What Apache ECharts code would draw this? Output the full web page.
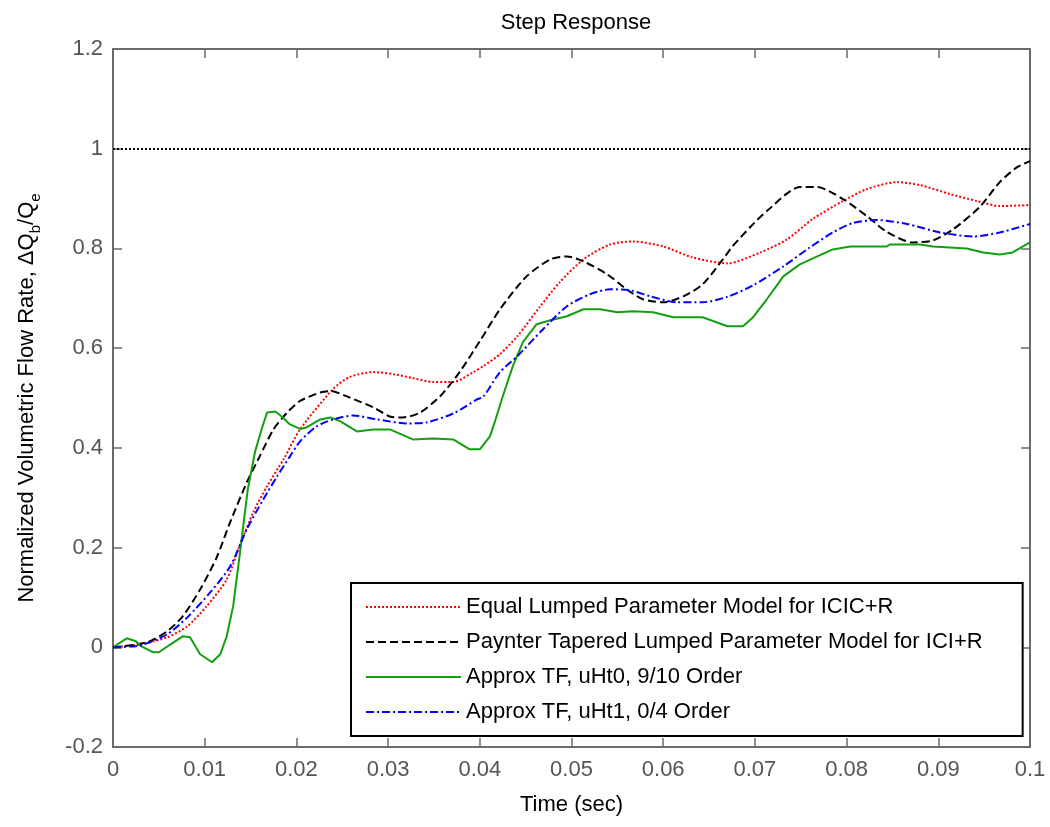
<!DOCTYPE html>
<html>
<head>
<meta charset="utf-8">
<script src="https://cdn.jsdelivr.net/npm/echarts@6/dist/echarts.min.js"></script>
<style>html,body{margin:0;padding:0;background:#fff}#c{width:1050px;height:827px}</style>
</head>
<body>
<div id="c"></div>
<script>
const seriesNames = [
  'Equal Lumped Parameter Model for ICIC+R',
  'Paynter Tapered Lumped Parameter Model for ICI+R',
  'Approx TF, uHt0, 9/10 Order',
  'Approx TF, uHt1, 0/4 Order'
];
const refLevel = 1;
const xTicks = { min: 0, max: 0.1, interval: 0.01 };
const yTicks = { min: -0.2, max: 1.2, interval: 0.2 };

const equalLumped = [
  [0,0],[0.003,0.006],[0.0059,0.02],[0.0081,0.042],[0.0102,0.082],[0.0124,0.136],
  [0.0138,0.203],[0.0153,0.271],[0.0168,0.323],[0.0186,0.377],[0.0204,0.437],
  [0.024,0.518],[0.0258,0.542],[0.0284,0.552],[0.0305,0.548],[0.0327,0.540],
  [0.0349,0.532],[0.0371,0.532],[0.0393,0.552],[0.0404,0.564],[0.0422,0.588],
  [0.0441,0.624],[0.0466,0.684],[0.0487,0.732],[0.0513,0.778],[0.0542,0.808],
  [0.0567,0.814],[0.06,0.804],[0.0632,0.782],[0.067,0.770],[0.0706,0.792],
  [0.0735,0.818],[0.0763,0.859],[0.0796,0.895],[0.0822,0.919],[0.0855,0.933],
  [0.088,0.927],[0.0913,0.909],[0.0942,0.895],[0.0967,0.885],[0.1,0.887]
];
const paynter = [
  [0,0],[0.0037,0.01],[0.0059,0.032],[0.0076,0.062],[0.0095,0.116],[0.0113,0.18],
  [0.0128,0.252],[0.0146,0.331],[0.016,0.383],[0.0175,0.437],[0.019,0.471],
  [0.0204,0.494],[0.0226,0.511],[0.0237,0.514],[0.0258,0.501],[0.0284,0.481],
  [0.0302,0.463],[0.0316,0.461],[0.0335,0.471],[0.0357,0.504],[0.0378,0.552],
  [0.04,0.614],[0.0422,0.678],[0.0451,0.744],[0.0477,0.778],[0.0495,0.784],
  [0.0513,0.774],[0.0539,0.748],[0.056,0.718],[0.0578,0.698],[0.06,0.692],
  [0.0622,0.704],[0.0643,0.728],[0.0665,0.778],[0.0676,0.805],[0.0695,0.843],
  [0.0713,0.875],[0.0749,0.923],[0.0768,0.923],[0.0796,0.899],[0.0822,0.865],
  [0.0844,0.833],[0.0872,0.812],[0.0894,0.816],[0.0916,0.838],[0.0945,0.883],
  [0.0967,0.933],[0.0986,0.963],[0.1,0.975]
];
const approxUHt0 = [
  [0,0],[0.0015,0.018],[0.0025,0.012],[0.003,0.003],[0.0044,-0.01],[0.005,-0.01],
  [0.0062,0.005],[0.0076,0.022],[0.0084,0.02],[0.0095,-0.014],[0.0108,-0.03],
  [0.0117,-0.014],[0.0124,0.022],[0.0131,0.082],[0.0138,0.183],[0.0147,0.317],
  [0.0155,0.393],[0.0162,0.437],[0.0168,0.471],[0.0177,0.473],[0.0184,0.463],
  [0.0193,0.447],[0.0204,0.438],[0.0211,0.441],[0.0226,0.457],[0.0237,0.461],
  [0.0248,0.453],[0.0266,0.433],[0.0284,0.437],[0.0302,0.437],[0.0327,0.417],
  [0.0349,0.419],[0.0371,0.417],[0.0389,0.397],[0.04,0.397],[0.0411,0.423],
  [0.0416,0.45],[0.0425,0.503],[0.0436,0.564],[0.0447,0.612],[0.0462,0.648],
  [0.0477,0.656],[0.0495,0.664],[0.0513,0.678],[0.0531,0.678],[0.055,0.672],
  [0.0567,0.674],[0.0589,0.672],[0.0611,0.662],[0.0643,0.662],[0.067,0.644],
  [0.0687,0.644],[0.0698,0.662],[0.0713,0.698],[0.0731,0.744],[0.0749,0.768],
  [0.0768,0.784],[0.0785,0.798],[0.0804,0.804],[0.0844,0.804],[0.0847,0.808],
  [0.088,0.808],[0.0894,0.804],[0.0931,0.800],[0.0949,0.792],[0.0967,0.788],
  [0.0981,0.792],[0.1,0.812]
];
const approxUHt1 = [
  [0,0],[0.003,0.004],[0.0059,0.026],[0.0081,0.06],[0.0106,0.110],[0.0128,0.163],
  [0.0146,0.237],[0.0164,0.297],[0.0179,0.343],[0.0193,0.383],[0.0204,0.413],
  [0.0222,0.443],[0.024,0.457],[0.0262,0.465],[0.0288,0.457],[0.0321,0.449],
  [0.0342,0.451],[0.0371,0.469],[0.0397,0.497],[0.0404,0.503],[0.0422,0.552],
  [0.0441,0.584],[0.0469,0.638],[0.0495,0.684],[0.052,0.708],[0.0542,0.718],
  [0.0564,0.716],[0.0586,0.704],[0.0615,0.692],[0.0643,0.692],[0.067,0.703],
  [0.0698,0.726],[0.0731,0.764],[0.076,0.802],[0.0785,0.832],[0.0807,0.851],
  [0.0833,0.857],[0.0866,0.849],[0.0902,0.832],[0.0938,0.824],[0.0967,0.832],
  [0.1,0.849]
];

const FONT = "'Liberation Sans', Arial, sans-serif";
const axisGray = '#6b6b6b';
const labelGray = '#555';

const chart = echarts.init(document.getElementById('c'), null, { renderer: 'canvas' });

const baseAxisLine = { show: true, onZero: false, lineStyle: { color: axisGray, width: 2 } };
const tickStyle = { show: true, inside: true, length: 9, lineStyle: { color: axisGray, width: 1.5 } };

chart.setOption({
  backgroundColor: '#fff',
  animation: false,
  title: {
    text: 'Step Response',
    left: 571, top: 7, textAlign: 'center',
    textStyle: { fontFamily: FONT, fontSize: 22, fontWeight: 'normal', color: '#000' }
  },
  grid: { left: 113, right: 20, top: 49, bottom: 80, containLabel: false },
  legend: {
    data: seriesNames,
    orient: 'vertical',
    left: 351, top: 583,
    padding: [13, 40, 13, 14],
    backgroundColor: '#fff',
    borderColor: '#000',
    borderWidth: 2,
    itemWidth: 95, itemHeight: 14, itemGap: 13,
    itemStyle: { opacity: 0 },
    textStyle: { fontFamily: FONT, fontSize: 22, color: '#000' },
    selectedMode: false
  },
  xAxis: [{
    type: 'value', min: xTicks.min, max: xTicks.max, interval: xTicks.interval,
    position: 'bottom',
    name: 'Time (sec)', nameLocation: 'middle', nameGap: 47,
    nameTextStyle: { fontFamily: FONT, fontSize: 22, color: '#000' },
    axisLine: baseAxisLine, axisTick: tickStyle,
    axisLabel: { fontFamily: FONT, fontSize: 22, color: labelGray, margin: 12,
      formatter: v => String(+(+v).toFixed(2)) },
    splitLine: { show: false }
  }, {
    type: 'value', min: xTicks.min, max: xTicks.max, interval: xTicks.interval,
    position: 'top',
    axisLine: baseAxisLine, axisTick: tickStyle,
    axisLabel: { show: false }, splitLine: { show: false }
  }],
  yAxis: [{
    type: 'value', min: yTicks.min, max: yTicks.max, interval: yTicks.interval,
    position: 'left',
    name: 'Normalized Volumetric Flow Rate, \u0394Q{sub|b}/Q{sub|e}',
    nameLocation: 'middle', nameGap: 70, nameRotate: 90,
    nameTextStyle: { fontFamily: FONT, fontSize: 22, color: '#000', lineHeight: 32,
      rich: { sub: { fontFamily: FONT, fontSize: 15, color: '#000', verticalAlign: 'bottom', lineHeight: 16 } } },
    axisLine: baseAxisLine, axisTick: tickStyle,
    axisLabel: { fontFamily: FONT, fontSize: 22, color: labelGray, margin: 10,
      formatter: v => String(+(+v).toFixed(1)) },
    splitLine: { show: false }
  }, {
    type: 'value', min: yTicks.min, max: yTicks.max, interval: yTicks.interval,
    position: 'right',
    axisLine: baseAxisLine, axisTick: tickStyle,
    axisLabel: { show: false }, splitLine: { show: false }
  }],
  series: [
    { name: seriesNames[0], type: 'line', data: equalLumped, symbol: 'none', smooth: 0.25,
      lineStyle: { color: '#ff0000', width: 2, type: [2, 2] }, itemStyle: { color: '#ff0000' },
      markLine: { silent: true, symbol: 'none', label: { show: false },
        lineStyle: { color: '#000', width: 2, type: [2, 2] },
        data: [{ yAxis: refLevel }] } },
    { name: seriesNames[1], type: 'line', data: paynter, symbol: 'none', smooth: 0.25,
      lineStyle: { color: '#000', width: 2, type: [8, 4] }, itemStyle: { color: '#000' } },
    { name: seriesNames[2], type: 'line', data: approxUHt0, symbol: 'none', smooth: false,
      lineStyle: { color: '#10a010', width: 2, type: 'solid' }, itemStyle: { color: '#10a010' } },
    { name: seriesNames[3], type: 'line', data: approxUHt1, symbol: 'none', smooth: 0.25,
      lineStyle: { color: '#0000ff', width: 2, type: [8, 3, 2, 3] }, itemStyle: { color: '#0000ff' } }
  ]
});
</script>
</body>
</html>
